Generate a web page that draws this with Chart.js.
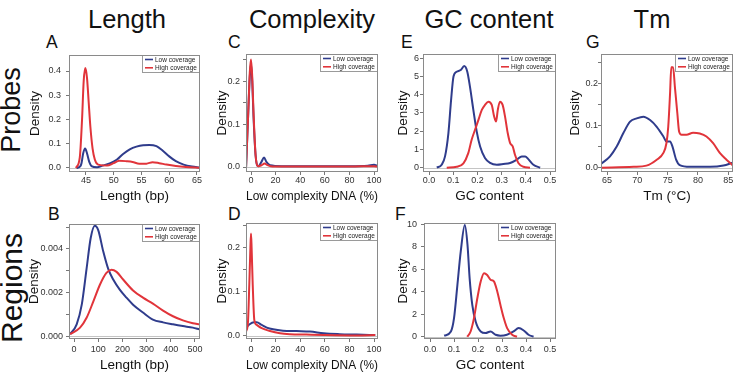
<!DOCTYPE html>
<html>
<head>
<meta charset="utf-8">
<script src="https://cdn.jsdelivr.net/npm/chart.js@4.4.0/dist/chart.umd.min.js"></script>
<style>
body { margin:0; background:#fff; width:736px; height:372px; position:relative; overflow:hidden;
       font-family:"Liberation Sans", Arial, sans-serif; color:#111; }
canvas { position:absolute; }
.lbl { position:absolute; white-space:nowrap; line-height:1; }
.col { font-size:25.5px; transform:translateX(-50%); }
.letter { font-size:17.5px; }
.row { transform:translate(-50%,-50%) rotate(-90deg); }
</style>
</head>
<body>
<div class="lbl col" style="left:127px;top:7px">Length</div>
<div class="lbl col" style="left:312px;top:7px">Complexity</div>
<div class="lbl col" style="left:489px;top:7px">GC content</div>
<div class="lbl col" style="left:652px;top:7px">Tm</div>
<div class="lbl row" style="left:11px;top:110px;font-size:27px">Probes</div>
<div class="lbl row" style="left:12px;top:288px;font-size:30px">Regions</div>
<div class="lbl letter" style="left:46px;top:34px">A</div>
<div class="lbl letter" style="left:48px;top:206px">B</div>
<div class="lbl letter" style="left:228px;top:34px">C</div>
<div class="lbl letter" style="left:228px;top:206px">D</div>
<div class="lbl letter" style="left:401px;top:34px">E</div>
<div class="lbl letter" style="left:395px;top:206px">F</div>
<div class="lbl letter" style="left:586px;top:34px">G</div>

<script>
// ---- data ----
// A: probe length
var probeLenLowX  = [43.3, 44.0, 44.2, 44.5, 44.85, 45.2, 45.6, 46.0, 47.0, 48.0, 49.4, 50.6, 51.7, 52.9, 54.1, 55.3, 56.4, 57.7, 58.8, 60.0, 61.2, 62.6, 64.1, 65.5];
var probeLenLowY  = [0.0, 0.008, 0.02, 0.06, 0.08, 0.06, 0.025, 0.008, 0.003, 0.01, 0.02, 0.035, 0.058, 0.077, 0.088, 0.094, 0.095, 0.09, 0.072, 0.048, 0.028, 0.014, 0.006, 0.002];
var probeLenHighX = [43.2, 43.9, 44.3, 44.6, 44.9, 45.2, 45.5, 45.8, 46.2, 46.6, 47.2, 48.8, 50.0, 51.0, 52.3, 53.4, 54.6, 55.9, 57.0, 58.2, 59.5, 61.2, 63.0, 65.5];
var probeLenHighY = [0.0, 0.045, 0.2, 0.36, 0.412, 0.37, 0.27, 0.17, 0.08, 0.035, 0.014, 0.01, 0.02, 0.03, 0.028, 0.025, 0.018, 0.018, 0.024, 0.02, 0.014, 0.008, 0.004, 0.001];
var probeLenTicksX = [45, 50, 55, 60, 65];
var probeLenLabelsX = ['45', '50', '55', '60', '65'];
var probeLenTicksY = [0, 0.1, 0.2, 0.3, 0.4];
var probeLenLabelsY = ['0.0', '0.1', '0.2', '0.3', '0.4'];

// B: region length
var regionLenLowX  = [-16, 11, 32, 52, 69, 86, 100, 121, 141, 162, 189, 217, 244, 285, 326, 368, 409, 450, 491, 518];
var regionLenLowY  = [0.0001, 0.00055, 0.00145, 0.0031, 0.0045, 0.00506, 0.00486, 0.00388, 0.0031, 0.0026, 0.00214, 0.00177, 0.00145, 0.00109, 0.00077, 0.00064, 0.00055, 0.00047, 0.0004, 0.00032];
var regionLenHighX = [-16, 25, 52, 80, 107, 134, 155, 176, 203, 244, 285, 326, 368, 409, 450, 491, 518];
var regionLenHighY = [0.0001, 0.0004, 0.00085, 0.0016, 0.00236, 0.0029, 0.00305, 0.00295, 0.0026, 0.0021, 0.00177, 0.0015, 0.00118, 0.00092, 0.00073, 0.0006, 0.00055];
var regionLenTicksX = [0, 100, 200, 300, 400, 500];
var regionLenLabelsX = ['0', '100', '200', '300', '400', '500'];
var regionLenTicksY = [0, 0.001, 0.002, 0.003, 0.004, 0.005];
var regionLenLabelsY = ['0.000', '', '0.002', '', '0.004', ''];

// C: probe complexity
var probeCxLowX  = [-4, -2.2, -1, 0, 1, 2, 3.8, 6, 8.5, 10.6, 12.5, 15.5, 25, 40, 60, 80, 95, 100, 103];
var probeCxLowY  = [0.0, 0.13, 0.21, 0.24, 0.2, 0.12, 0.025, 0.002, 0.012, 0.022, 0.012, 0.004, 0.002, 0.002, 0.002, 0.002, 0.003, 0.005, 0.003];
var probeCxHighX = [-4, -2.2, -1, 0, 1, 2, 3.8, 6, 8.5, 11, 13, 16, 25, 40, 60, 80, 100, 103];
var probeCxHighY = [0.0, 0.13, 0.22, 0.25, 0.21, 0.13, 0.025, 0.002, 0.004, 0.008, 0.005, 0.002, 0.001, 0.001, 0.001, 0.001, 0.002, 0.001];

// D: region complexity
var regionCxLowX  = [-4, -1.4, 2.5, 4.6, 8.7, 12.8, 18, 26, 37, 48, 59, 72, 86, 101];
var regionCxLowY  = [0.019, 0.026, 0.031, 0.031, 0.025, 0.019, 0.015, 0.012, 0.011, 0.01, 0.006, 0.004, 0.003, 0.002];
var regionCxHighX = [-4, -2.5, -1.4, -0.5, 0, 0.5, 1.4, 2.7, 4.6, 8.7, 15.4, 23.6, 31.7, 45, 59, 86, 101];
var regionCxHighY = [0.01, 0.03, 0.116, 0.2, 0.233, 0.2, 0.116, 0.036, 0.025, 0.0175, 0.011, 0.006, 0.004, 0.003, 0.002, 0.001, 0.002];

var cxTicksX = [0, 20, 40, 60, 80, 100];
var cxLabelsX = ['0', '20', '40', '60', '80', '100'];
var cxTicksY = [0, 0.05, 0.1, 0.15, 0.2, 0.25];
var cxLabelsY = ['0.0', '', '0.1', '', '0.2', ''];

// E: probe GC content
var probeGcLowX  = [0.032, 0.052, 0.066, 0.080, 0.091, 0.101, 0.114, 0.131, 0.145, 0.158, 0.169, 0.183, 0.197, 0.211, 0.231, 0.252, 0.28, 0.307, 0.335, 0.362, 0.383, 0.397, 0.41, 0.431, 0.459];
var probeGcLowY  = [0.0, 0.16, 0.62, 1.9, 3.7, 5.0, 5.26, 5.35, 5.57, 5.26, 4.44, 3.17, 1.98, 1.16, 0.53, 0.26, 0.16, 0.2, 0.26, 0.44, 0.62, 0.62, 0.47, 0.16, 0.0];
var probeGcHighX = [0.073, 0.114, 0.142, 0.162, 0.176, 0.19, 0.204, 0.218, 0.231, 0.245, 0.259, 0.269, 0.277, 0.284, 0.293, 0.304, 0.314, 0.325, 0.335, 0.346, 0.355, 0.369, 0.39, 0.417];
var probeGcHighY = [0.0, 0.05, 0.24, 0.8, 1.53, 2.08, 2.62, 3.17, 3.44, 3.62, 3.44, 2.8, 2.53, 3.17, 3.62, 3.44, 2.8, 1.9, 1.35, 1.16, 0.71, 0.26, 0.05, 0.0];
var probeGcTicksY = [0, 1, 2, 3, 4, 5, 6];
var probeGcLabelsY = ['0', '1', '2', '3', '4', '5', '6'];

// F: region GC content
var regionGcLowX  = [0.059, 0.087, 0.1, 0.114, 0.128, 0.145, 0.156, 0.165, 0.176, 0.19, 0.211, 0.231, 0.252, 0.273, 0.293, 0.32, 0.348, 0.369, 0.39, 0.41, 0.431];
var regionGcLowY  = [0.09, 0.47, 1.66, 4.6, 7.6, 9.95, 8.2, 5.2, 2.84, 1.36, 0.47, 0.33, 0.47, 0.18, 0.1, 0.18, 0.47, 0.77, 0.56, 0.18, 0.0];
var regionGcHighX = [0.155, 0.169, 0.183, 0.197, 0.211, 0.225, 0.238, 0.252, 0.266, 0.28, 0.293, 0.307, 0.321, 0.342, 0.362];
var regionGcHighY = [0.0, 0.47, 1.66, 3.43, 4.92, 5.66, 5.5, 5.07, 4.92, 4.03, 2.84, 1.66, 0.77, 0.18, 0.0];
var regionGcTicksY = [0, 2, 4, 6, 8, 10];
var regionGcLabelsY = ['0', '2', '4', '6', '8', '10'];

var gcTicksX = [0, 0.1, 0.2, 0.3, 0.4, 0.5];
var gcLabelsX = ['0.0', '0.1', '0.2', '0.3', '0.4', '0.5'];

// G: probe Tm
var probeTmLowX  = [64.0, 65.5, 66.6, 67.7, 68.8, 69.9, 71.0, 72.1, 73.2, 74.3, 74.8, 75.4, 75.8, 76.4, 77.0, 78.7, 82.0, 84.2, 85.7];
var probeTmLowY  = [0.009, 0.027, 0.05, 0.082, 0.109, 0.117, 0.121, 0.113, 0.097, 0.074, 0.062, 0.062, 0.05, 0.019, 0.006, 0.002, 0.002, 0.005, 0.012];
var probeTmHighX = [64.0, 69.4, 71.5, 73.2, 74.3, 74.8, 75.1, 75.4, 75.6, 75.9, 76.2, 76.6, 76.9, 77.3, 78.1, 79.2, 80.3, 81.4, 82.5, 83.6, 84.7, 85.7];
var probeTmHighY = [0.0, 0.002, 0.005, 0.019, 0.035, 0.058, 0.097, 0.176, 0.238, 0.238, 0.191, 0.129, 0.085, 0.078, 0.078, 0.083, 0.081, 0.074, 0.058, 0.035, 0.019, 0.006];
var probeTmTicksX = [65, 70, 75, 80, 85];
var probeTmLabelsX = ['65', '70', '75', '80', '85'];
var probeTmTicksY = [0, 0.05, 0.1, 0.15, 0.2, 0.25];
var probeTmLabelsY = ['0.0', '', '0.1', '', '0.2', ''];

var BLUE = '#2f3c8c';
var RED = '#e1343a';
var FONT = '"Liberation Sans", Arial, sans-serif';

function pts(xs, ys) {
    return xs.map(function (x, i) { return { x: x, y: ys[i] }; });
}

// R style box, zero line and inset legend
var rFrame = {
    id: 'rFrame',
    beforeDatasetsDraw: function (chart) {
        var a = chart.chartArea, ctx = chart.ctx;
        var y0 = Math.round(chart.scales.y.getPixelForValue(0)) + 0.5;
        ctx.save();
        ctx.strokeStyle = '#c4c4c4';
        ctx.lineWidth = 1;
        ctx.beginPath(); ctx.moveTo(a.left, y0); ctx.lineTo(a.right, y0); ctx.stroke();
        ctx.restore();
    },
    afterDatasetsDraw: function (chart) {
        var a = chart.chartArea, ctx = chart.ctx;
        var w = 58, h = 18, x = a.right - w, y = a.top;
        ctx.save();
        ctx.fillStyle = '#fff';
        ctx.fillRect(x, y, w, h);
        ctx.strokeStyle = '#9a9a9a';
        ctx.lineWidth = 1;
        ctx.strokeRect(x + 0.5, y + 0.5, w - 1, h - 1);
        ctx.font = '6.5px ' + FONT;
        ctx.textBaseline = 'middle';
        chart.data.datasets.forEach(function (ds, i) {
            var ly = y + 4.5 + i * 8.3;
            ctx.strokeStyle = ds.borderColor;
            ctx.lineWidth = 1.6;
            ctx.beginPath(); ctx.moveTo(x + 3, ly); ctx.lineTo(x + 11, ly); ctx.stroke();
            ctx.fillStyle = '#222';
            ctx.fillText(ds.label, x + 13, ly + 0.3);
        });
        ctx.restore();
    },
    afterDraw: function (chart) {
        var a = chart.chartArea, ctx = chart.ctx;
        ctx.save();
        ctx.strokeStyle = '#8a8a8a';
        ctx.lineWidth = 1;
        ctx.strokeRect(a.left + 0.5, a.top + 0.5, a.right - a.left - 1, a.bottom - a.top - 1);
        ctx.restore();
    }
};

function axis(min, max, ticks, labels, p, horizontal) {
    return {
        type: 'linear',
        min: min,
        max: max,
        afterBuildTicks: function (s) { s.ticks = ticks.map(function (v) { return { value: v }; }); },
        afterFit: function (s) {
            if (horizontal) { s.height = p.xH; s.paddingLeft = 0; s.paddingRight = 0; }
            else { s.width = p.yW; s.paddingTop = 0; s.paddingBottom = 0; }
        },
        border: { display: false },
        grid: { display: true, drawOnChartArea: false, drawTicks: true, tickLength: 3, tickColor: '#777' },
        ticks: {
            autoSkip: false, maxRotation: 0, color: '#333',
            padding: horizontal ? p.padX : p.padY,
            font: { family: FONT, size: 9 },
            callback: function (v, i) { return labels[i]; }
        },
        title: {
            display: true,
            text: horizontal ? p.xTitle : 'Density',
            color: '#111',
            font: { family: FONT, size: 13.5, lineHeight: 1.2 },
            padding: horizontal ? { top: 0, bottom: p.xTitlePad } : { top: p.yTitlePad, bottom: 0 }
        }
    };
}

function densityPanel(p) {
    var cv = document.createElement('canvas');
    var w = p.yW + (p.box[2] - p.box[0]) + p.padR;
    var h = p.padT + (p.box[3] - p.box[1]) + p.xH;
    cv.width = w; cv.height = h;
    cv.style.left = (p.box[0] - p.yW) + 'px';
    cv.style.top = (p.box[1] - p.padT) + 'px';
    cv.style.width = w + 'px'; cv.style.height = h + 'px';
    document.body.appendChild(cv);

    return new Chart(cv.getContext('2d'), {
        type: 'scatter',
        data: {
            datasets: [
                { label: 'Low coverage', data: pts(p.lowX, p.lowY), borderColor: BLUE, order: 1 },
                { label: 'High coverage', data: pts(p.highX, p.highY), borderColor: RED, order: 0 }
            ]
        },
        options: {
            responsive: false,
            animation: false,
            showLine: true,
            layout: { padding: { top: p.padT, right: p.padR, left: 0, bottom: 0 } },
            elements: {
                point: { radius: 0 },
                line: { borderWidth: 2, cubicInterpolationMode: 'monotone', fill: false }
            },
            plugins: { legend: { display: false }, tooltip: { enabled: false } },
            scales: {
                x: axis(p.xr[0], p.xr[1], p.ticksX, p.labelsX, p, true),
                y: axis(p.yr[0], p.yr[1], p.ticksY, p.labelsY, p, false)
            }
        },
        plugins: [rFrame]
    });
}

// A
densityPanel({ box: [69, 55, 200, 172], xr: [41.95, 65.55], yr: [-0.0165, 0.466],
    lowX: probeLenLowX, lowY: probeLenLowY, highX: probeLenHighX, highY: probeLenHighY,
    ticksX: probeLenTicksX, labelsX: probeLenLabelsX, ticksY: probeLenTicksY, labelsY: probeLenLabelsY,
    xTitle: 'Length (bp)', yW: 45, yTitlePad: 3, xH: 33, xTitlePad: 1, padT: 4, padR: 6, padX: 0, padY: 5 });
// B
densityPanel({ box: [69, 224, 200, 339], xr: [-20.7, 520.7], yr: [-0.00012, 0.00514],
    lowX: regionLenLowX, lowY: regionLenLowY, highX: regionLenHighX, highY: regionLenHighY,
    ticksX: regionLenTicksX, labelsX: regionLenLabelsX, ticksY: regionLenTicksY, labelsY: regionLenLabelsY,
    xTitle: 'Length (bp)', yW: 45, yTitlePad: 2, xH: 35, xTitlePad: 1, padT: 4, padR: 8, padX: 2, padY: 3 });
// C
densityPanel({ box: [246, 54, 378, 172], xr: [-4.07, 103.25], yr: [-0.0116, 0.263],
    lowX: probeCxLowX, lowY: probeCxLowY, highX: probeCxHighX, highY: probeCxHighY,
    ticksX: cxTicksX, labelsX: cxLabelsX, ticksY: cxTicksY, labelsY: cxLabelsY,
    xTitle: 'Low complexity DNA (%)', yW: 34, yTitlePad: 2, xH: 33, xTitlePad: 1, padT: 4, padR: 8, padX: 0, padY: 3 });
// D
densityPanel({ box: [246, 223, 378, 339], xr: [-4.07, 103.25], yr: [-0.007, 0.2568],
    lowX: regionCxLowX, lowY: regionCxLowY, highX: regionCxHighX, highY: regionCxHighY,
    ticksX: cxTicksX, labelsX: cxLabelsX, ticksY: cxTicksY, labelsY: cxLabelsY,
    xTitle: 'Low complexity DNA (%)', yW: 34, yTitlePad: 2, xH: 35, xTitlePad: 1, padT: 4, padR: 8, padX: 2, padY: 3 });
// E
densityPanel({ box: [423, 54, 556, 172], xr: [-0.025, 0.5245], yr: [-0.235, 6.23],
    lowX: probeGcLowX, lowY: probeGcLowY, highX: probeGcHighX, highY: probeGcHighY,
    ticksX: gcTicksX, labelsX: gcLabelsX, ticksY: probeGcTicksY, labelsY: probeGcLabelsY,
    xTitle: 'GC content', yW: 30, yTitlePad: 2, xH: 33, xTitlePad: 1, padT: 4, padR: 8, padX: 0, padY: 1 });
// F
densityPanel({ box: [424, 223, 556, 339], xr: [-0.025, 0.5245], yr: [-0.2, 10.12],
    lowX: regionGcLowX, lowY: regionGcLowY, highX: regionGcHighX, highY: regionGcHighY,
    ticksX: gcTicksX, labelsX: gcLabelsX, ticksY: regionGcTicksY, labelsY: regionGcLabelsY,
    xTitle: 'GC content', yW: 31, yTitlePad: 2, xH: 35, xTitlePad: 1, padT: 4, padR: 8, padX: 2, padY: 4 });
// G
densityPanel({ box: [601, 54, 733, 172], xr: [64.01, 85.78], yr: [-0.0102, 0.2694],
    lowX: probeTmLowX, lowY: probeTmLowY, highX: probeTmHighX, highY: probeTmHighY,
    ticksX: probeTmTicksX, labelsX: probeTmLabelsX, ticksY: probeTmTicksY, labelsY: probeTmLabelsY,
    xTitle: 'Tm (\u00B0C)', yW: 36, yTitlePad: 2, xH: 33, xTitlePad: 1, padT: 4, padR: 3, padX: 0, padY: 0 });
</script>
</body>
</html>
